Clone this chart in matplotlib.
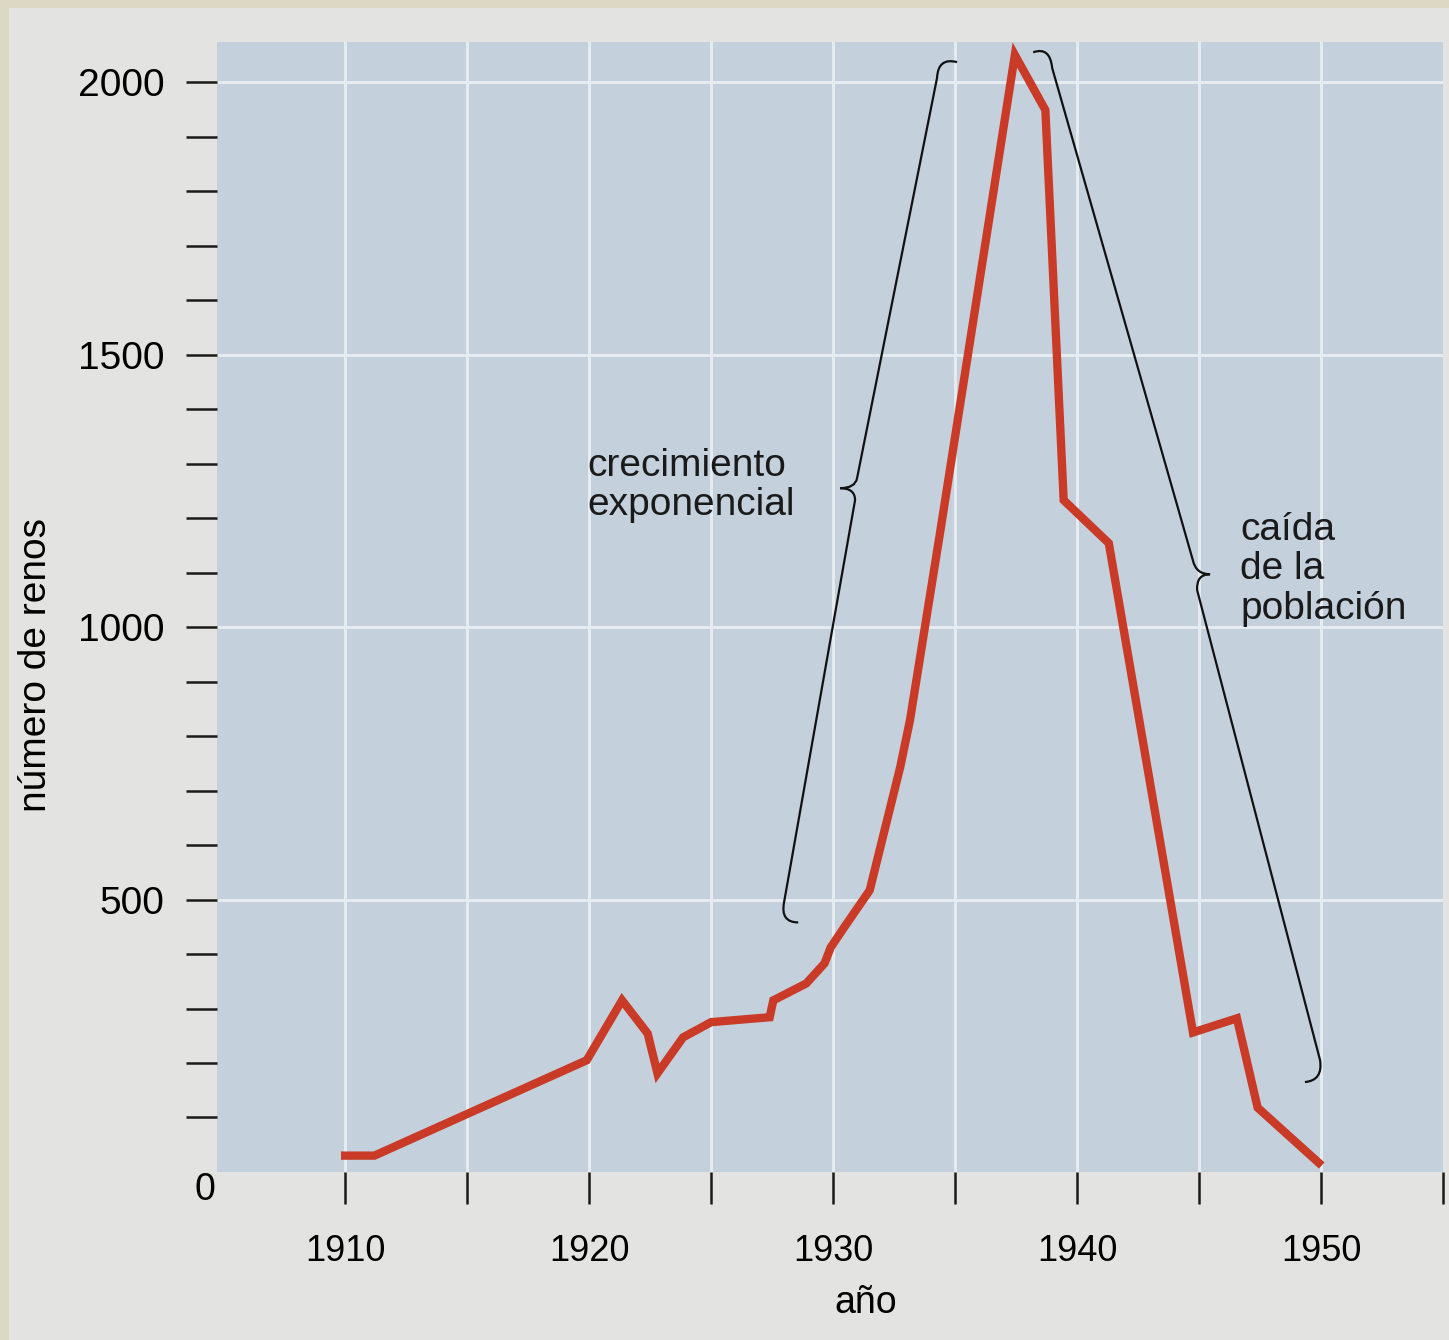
import matplotlib
matplotlib.use("Agg")
import matplotlib.pyplot as plt
from matplotlib.path import Path
from matplotlib.patches import PathPatch, Rectangle

plt.rcParams['font.family'] = ['Liberation Sans', 'DejaVu Sans']

# reindeer count
years = [1910.0, 1911.2, 1919.9, 1921.35, 1922.4, 1922.8, 1923.85, 1925.0,
         1927.4, 1927.55, 1928.9, 1929.65, 1929.9, 1930.5, 1931.5, 1932.75,
         1933.15, 1934.4, 1937.45, 1938.7, 1939.45, 1941.3, 1944.75, 1946.55,
         1947.4, 1949.9]
renos = [30, 30, 205, 315, 254, 181, 247, 275,
         284, 315, 346, 383, 412, 452, 517, 743,
         829, 1178, 2050, 1949, 1233, 1154, 256, 282,
         118, 17]

x_ticks = list(range(1910, 1956, 5))
x_labels = ['1910', '', '1920', '', '1930', '', '1940', '', '1950', '']
y_ticks = list(range(100, 2001, 100))
y_labels = [str(v) if v % 500 == 0 else '' for v in y_ticks]

page = '#e3e3e2'
panel = '#c4d1dd'
red = '#c93a27'

fig = plt.figure(figsize=(14.49, 13.4), dpi=100, facecolor=page)
# scanned-page border
fig.patches.append(Rectangle((0, 0), 0.006, 1, transform=fig.transFigure,
                             facecolor='#dcd8c3', edgecolor='none'))
fig.patches.append(Rectangle((0, 0.994), 1, 0.006, transform=fig.transFigure,
                             facecolor='#dcd8c3', edgecolor='none'))

ax = fig.add_axes([0.1498, 0.1254, 0.8461, 0.8433])
ax.set_facecolor(panel)
ax.set_xlim(1904.75, 1955.0)
ax.set_ylim(0, 2074)

for s in ax.spines.values():
    s.set_visible(False)

# white grid
for gx in range(1910, 1951, 5):
    ax.axvline(gx, color='#e6ebf0', lw=2.2, zorder=1)
for gy in range(500, 2001, 500):
    ax.axhline(gy, color='#e6ebf0', lw=2.2, zorder=1)

ax.plot(years, renos, color=red, lw=6, solid_joinstyle='miter', zorder=3)

ax.set_xticks(x_ticks)
ax.set_xticklabels(x_labels)
ax.set_yticks(y_ticks)
ax.set_yticklabels(y_labels)
ax.tick_params(axis='x', direction='out', length=23, width=1.8, pad=22,
               labelsize=26, color='#1a1a1a')
ax.tick_params(axis='y', direction='out', length=22, width=1.8, pad=16,
               labelsize=28, color='#1a1a1a')
ax.text(-0.0098, -0.016, '0', transform=ax.transAxes, ha='center', va='center',
        fontsize=27)

ax.set_xlabel('año', fontsize=27)
ax.xaxis.label.set_va('center')
ax.xaxis.set_label_coords(0.529, -0.116)
ax.set_ylabel('número de renos', fontsize=28)
ax.yaxis.label.set_va('center')
ax.yaxis.set_label_coords(-0.148, 0.449)

# curly braces
C = Path.CURVE3
brace_left = [(1935.08, 2037), (1934.30, 2046), (1934.26, 2008),
              (1930.98, 1273), (1930.90, 1255), (1930.29, 1255),
              (1930.90, 1255), (1930.90, 1233), (1927.99, 495),
              (1927.83, 458), (1928.57, 458)]
brace_right = [(1938.20, 2055), (1938.89, 2066), (1938.98, 2026),
               (1944.75, 1122), (1944.88, 1097), (1945.45, 1097),
               (1944.88, 1097), (1944.92, 1068), (1949.96, 205),
               (1950.08, 168), (1949.34, 165)]
codes = [Path.MOVETO, C, C, Path.LINETO, C, C, C, C, Path.LINETO, C, C]
for pts in (brace_left, brace_right):
    ax.add_patch(PathPatch(Path(pts, codes), facecolor='none',
                           edgecolor='#111111', lw=1.6, zorder=4))

ax.text(1919.92, 1260, 'crecimiento\nexponencial', fontsize=28,
        ha='left', va='center', linespacing=1.1, color='#1a1a1a')
ax.text(1946.68, 1106, 'caída\nde la\npoblación', fontsize=28,
        ha='left', va='center', linespacing=1.13, color='#1a1a1a')

fig.savefig('out.png', dpi=100, facecolor=page)
